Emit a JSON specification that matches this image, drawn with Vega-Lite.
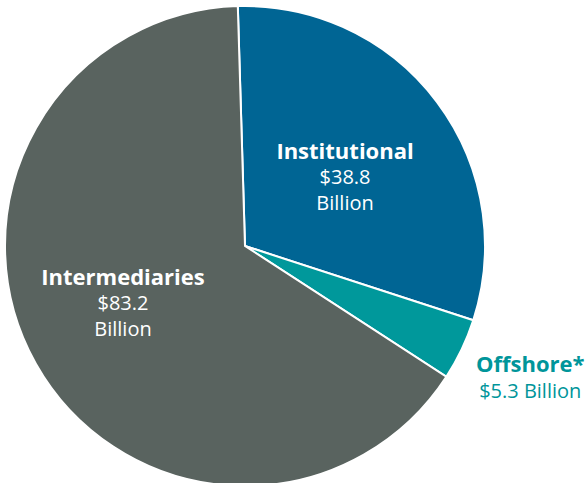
{
  "$schema": "https://vega.github.io/schema/vega-lite/v6.json",
  "autosize": "none",
  "width": 490,
  "height": 474,
  "padding": {"left": 0, "top": 9, "right": 96, "bottom": 0},
  "background": "white",
  "config": {"view": {"stroke": null}, "font": "Open Sans"},
  "data": {
    "values": [
      {"segment": "Institutional", "value": 38.8, "ord": 1, "aName": "Institutional", "aValue": "$38.8\nBillion", "bName": "", "bValue": "", "outName": "", "outValue": ""},
      {"segment": "Offshore*", "value": 5.3, "ord": 2, "aName": "", "aValue": "", "bName": "", "bValue": "", "outName": "Offshore*", "outValue": "$5.3 Billion"},
      {"segment": "Intermediaries", "value": 83.2, "ord": 3, "aName": "", "aValue": "", "bName": "Intermediaries", "bValue": "$83.2\nBillion", "outName": "", "outValue": ""}
    ]
  },
  "encoding": {
    "theta": {"field": "value", "type": "quantitative", "stack": true, "scale": {"range": [-0.03, 6.2532]}},
    "order": {"field": "ord", "type": "quantitative"}
  },
  "layer": [
    {
      "mark": {"type": "arc", "outerRadius": 240, "stroke": "white", "strokeWidth": 2},
      "encoding": {
        "color": {"field": "segment", "type": "nominal", "legend": null,
          "scale": {"domain": ["Institutional", "Offshore*", "Intermediaries"], "range": ["#006594", "#00989B", "#59635F"]}}
      }
    },
    {
      "mark": {"type": "text", "radius": 125, "dy": -19, "fontSize": 22, "fontWeight": "bold", "fill": "white", "align": "center", "baseline": "middle"},
      "encoding": {"text": {"field": "aName"}}
    },
    {
      "mark": {"type": "text", "radius": 125, "dy": 7, "fontSize": 20, "fill": "white", "align": "center", "baseline": "middle", "lineBreak": "\n", "lineHeight": 26},
      "encoding": {"text": {"field": "aValue"}}
    },
    {
      "mark": {"type": "text", "radius": 140, "dy": -37, "fontSize": 22, "fontWeight": "bold", "fill": "white", "align": "center", "baseline": "middle"},
      "encoding": {"text": {"field": "bName"}}
    },
    {
      "mark": {"type": "text", "radius": 140, "dy": -11, "fontSize": 20, "fill": "white", "align": "center", "baseline": "middle", "lineBreak": "\n", "lineHeight": 26},
      "encoding": {"text": {"field": "bValue"}}
    },
    {
      "mark": {"type": "text", "radius": 316, "dy": -17, "fontSize": 22, "fontWeight": "bold", "fill": "#00959A", "align": "center", "baseline": "middle"},
      "encoding": {"text": {"field": "outName"}}
    },
    {
      "mark": {"type": "text", "radius": 316, "dy": 10, "fontSize": 20, "fill": "#00959A", "align": "center", "baseline": "middle"},
      "encoding": {"text": {"field": "outValue"}}
    }
  ]
}
